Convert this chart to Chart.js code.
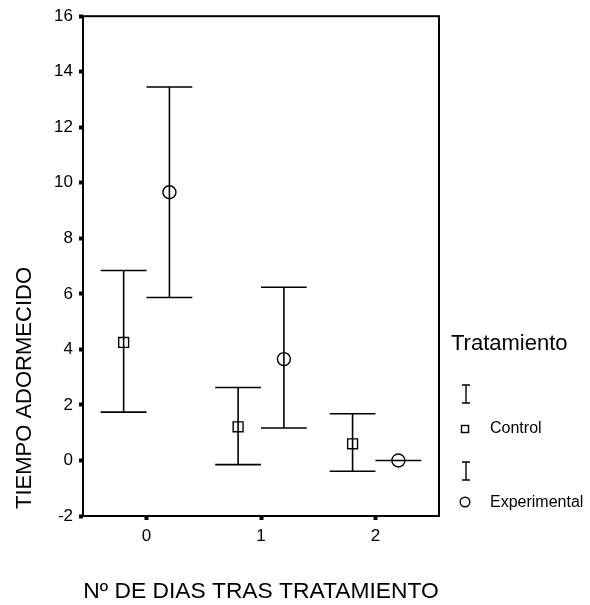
<!DOCTYPE html>
<html>
<head>
<meta charset="utf-8">
<script src="https://cdn.jsdelivr.net/npm/chart.js@4"></script>
<style>
  html, body { margin: 0; padding: 0; background: #fff; }
  #wrap { width: 590px; height: 605px; position: relative; }
</style>
</head>
<body>
<div id="wrap"><canvas id="chart"></canvas></div>
<script>
// days after treatment, means and interval ends per group
const days = [0, 1, 2];
const xTicks = [0, 1, 2];
const yTicks = [-2, 0, 2, 4, 6, 8, 10, 12, 14, 16];
const groups = ['Control', 'Experimental'];
const controlMean = [4.25, 1.21, 0.6];
const controlLow = [1.74, -0.15, -0.39];
const controlHigh = [6.84, 2.63, 1.68];
const expMean = [9.66, 3.65, 0.0];
const expLow = [5.87, 1.17, 0.0];
const expHigh = [13.45, 6.24, 0.0];

const yTitle = 'TIEMPO ADORMECIDO';
const xTitle = 'Nº DE DIAS TRAS TRATAMIENTO';
const legendTitle = 'Tratamiento';

const FONT = '"Liberation Sans", Arial, sans-serif';
const SHIFT = 0.2;   // group offset inside each day
const CAP = 0.2;     // half width of the whisker caps

function points(shift, mean, lo, hi) {
    return days.map((d, i) => ({ x: d + shift, y: mean[i], lo: lo[i], hi: hi[i] }));
}

const errorBars = {
    id: 'errorBars',
    beforeDatasetsDraw(chart) {
        const { ctx, scales: { x, y } } = chart;
        ctx.save();
        ctx.strokeStyle = '#000';
        ctx.lineWidth = 1.6;
        chart.data.datasets.forEach(ds => {
            ds.data.forEach(p => {
                const px = x.getPixelForValue(p.x);
                const l = x.getPixelForValue(p.x - CAP);
                const r = x.getPixelForValue(p.x + CAP);
                const top = y.getPixelForValue(p.hi);
                const bot = y.getPixelForValue(p.lo);
                ctx.beginPath();
                ctx.moveTo(px, top); ctx.lineTo(px, bot);
                ctx.moveTo(l, top); ctx.lineTo(r, top);
                ctx.moveTo(l, bot); ctx.lineTo(r, bot);
                ctx.stroke();
            });
        });
        ctx.restore();
    }
};

const decorations = {
    id: 'decorations',
    afterDraw(chart) {
        const { ctx, chartArea: a } = chart;
        ctx.save();
        // frame
        ctx.strokeStyle = '#000';
        ctx.lineWidth = 2;
        ctx.strokeRect(a.left, a.top, a.right - a.left, a.bottom - a.top);

        ctx.fillStyle = '#000';
        // axis titles
        ctx.textAlign = 'center';
        ctx.textBaseline = 'alphabetic';
        ctx.font = '22.8px ' + FONT;
        ctx.fillText(xTitle, (a.left + a.right) / 2, 598);
        ctx.font = '22px ' + FONT;
        ctx.save();
        ctx.translate(30.5, 388);
        ctx.rotate(-Math.PI / 2);
        ctx.fillText(yTitle, 0, 0);
        ctx.restore();

        // legend
        ctx.textAlign = 'left';
        ctx.fillText(legendTitle, 451, 350);
        ctx.lineWidth = 1.4;
        const ibar = (cx, t, b) => {
            ctx.beginPath();
            ctx.moveTo(cx, t); ctx.lineTo(cx, b);
            ctx.moveTo(cx - 4, t); ctx.lineTo(cx + 4, t);
            ctx.moveTo(cx - 4, b); ctx.lineTo(cx + 4, b);
            ctx.stroke();
        };
        ibar(466, 385, 403);
        ctx.strokeRect(461.5, 425.5, 7, 7);
        ibar(466, 462, 480);
        ctx.beginPath();
        ctx.arc(465, 502, 4.8, 0, Math.PI * 2);
        ctx.stroke();
        ctx.font = '16px ' + FONT;
        ctx.fillText(groups[0], 490, 433);
        ctx.fillText(groups[1], 490, 507);
        ctx.restore();
    }
};

new Chart(document.getElementById('chart'), {
    type: 'scatter',
    data: {
        datasets: [
            {
                label: groups[0],
                data: points(-SHIFT, controlMean, controlLow, controlHigh),
                pointStyle: 'rect',
                pointRadius: 7,
                borderColor: '#000',
                backgroundColor: 'rgba(0,0,0,0)',
                borderWidth: 1.4
            },
            {
                label: groups[1],
                data: points(SHIFT, expMean, expLow, expHigh),
                pointStyle: 'circle',
                pointRadius: 6.5,
                borderColor: '#000',
                backgroundColor: 'rgba(0,0,0,0)',
                borderWidth: 1.4
            }
        ]
    },
    options: {
        responsive: true,
        maintainAspectRatio: false,
        animation: false,
        events: [],
        layout: { padding: { top: 14, right: 151, bottom: 0, left: 0 } },
        scales: {
            x: {
                type: 'linear',
                min: -0.555,
                max: 2.555,
                afterFit: s => { s.height = 89; },
                afterBuildTicks: s => { s.ticks = xTicks.map(v => ({ value: v })); },
                border: { display: false },
                grid: { drawOnChartArea: false, color: '#000', tickLength: 4, tickWidth: 4 },
                ticks: { color: '#000', font: { family: FONT, size: 17 }, padding: 6 }
            },
            y: {
                min: -2,
                max: 16,
                afterFit: s => { s.width = 83; },
                afterBuildTicks: s => { s.ticks = yTicks.map(v => ({ value: v })); },
                border: { display: false },
                grid: { drawOnChartArea: false, color: '#000', tickLength: 4, tickWidth: 4 },
                ticks: { color: '#000', font: { family: FONT, size: 17 }, padding: 6 }
            }
        },
        plugins: {
            legend: { display: false },
            tooltip: { enabled: false }
        }
    },
    plugins: [errorBars, decorations]
});
</script>
</body>
</html>
